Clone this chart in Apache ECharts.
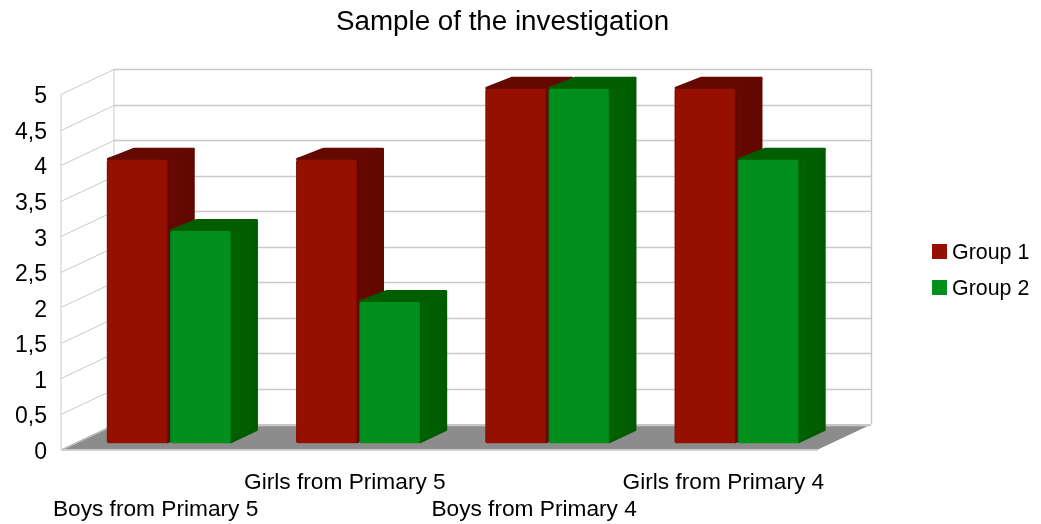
<!DOCTYPE html>
<html>
<head>
<meta charset="utf-8">
<style>html,body{margin:0;padding:0;background:#fff}#chart{width:1041px;height:524px}</style>
<script src="https://cdn.jsdelivr.net/npm/echarts@6/dist/echarts.min.js"></script>
</head>
<body>
<div id="chart"></div>
<script>
// Survey sample sizes per class
const categories = ['Boys from Primary 5', 'Girls from Primary 5', 'Boys from Primary 4', 'Girls from Primary 4'];
const group1 = [4, 4, 5, 5];
const group2 = [3, 2, 5, 4];
const valueTicks = [0, 0.5, 1, 1.5, 2, 2.5, 3, 3.5, 4, 4.5, 5];

// Oblique projection of the chart box
const DEPTH_X = 53;
const DEPTH_Y = 25;
const GRID_COLOR = '#c9c9c9';
const FONT = '"Liberation Sans", Arial, sans-serif';

const palette = {
  red: { front: '#961000', edge: '#7d0d00', top: '#640800', side: '#5f0700', sideLight: '#680900' },
  green: { front: '#00901b', edge: '#007a16', top: '#005d00', side: '#005a00', sideLight: '#006400' }
};

function line(x1, y1, x2, y2, width) {
  return {
    type: 'line',
    shape: { x1, y1, x2, y2 },
    style: { stroke: GRID_COLOR, lineWidth: width || 1, fill: null }
  };
}

// Back wall and side wall rules, one pair per value tick
function renderWallTick(params, api) {
  const cs = params.coordSys;
  const y = Math.round(api.coord([0, api.value(1)])[1]) + 0.5;
  const children = [
    line(cs.x, y, cs.x + DEPTH_X, y - DEPTH_Y),
    line(cs.x + DEPTH_X, y - DEPTH_Y, cs.x + DEPTH_X + cs.width, y - DEPTH_Y, 1.4)
  ];
  return { type: 'group', children };
}

// Floor and the box outline, drawn once
function renderBox(params) {
  const cs = params.coordSys;
  const left = cs.x, right = cs.x + cs.width, top = cs.y, bottom = cs.y + cs.height;
  return {
    type: 'group',
    children: [
      {
        type: 'polygon',
        shape: { points: [[left, bottom], [left + DEPTH_X, bottom - DEPTH_Y], [right + DEPTH_X, bottom - DEPTH_Y], [right, bottom]] },
        style: { fill: '#8c8c8c' }
      },
      line(left, top, left, bottom),
      line(left + DEPTH_X, top - DEPTH_Y, left + DEPTH_X, bottom - DEPTH_Y),
      line(right + DEPTH_X + 0.5, top - DEPTH_Y, right + DEPTH_X + 0.5, bottom - DEPTH_Y, 1.5),
      line(left, bottom + 0.5, right, bottom + 0.5, 1.5)
    ]
  };
}

// Extruded column: sits between a quarter and three quarters of the box depth
function makeBarRenderer(colors, side) {
  return function (params, api) {
    const base = api.coord([api.value(0), 0]);
    const head = api.coord([api.value(0), api.value(1)]);
    const band = api.size([1, 0])[0];
    const w = band * 0.322;
    const gap = band * 0.006;
    const shiftX = DEPTH_X / 4, shiftY = DEPTH_Y / 4;
    const dx = 27, dy = 12;
    const inset = 1.5;
    const x0 = base[0] + shiftX + (side < 0 ? -w - gap : gap);
    const x1 = x0 + w;
    const yTop = head[1] - shiftY + 1;
    const yBase = base[1] - shiftY;
    const hGrad = {
      type: 'linear', x: 0, y: 0, x2: 1, y2: 0,
      colorStops: [
        { offset: 0, color: colors.edge },
        { offset: 0.03, color: colors.front },
        { offset: 0.97, color: colors.front },
        { offset: 1, color: colors.edge }
      ]
    };
    const sideGrad = {
      type: 'linear', x: 0, y: 0, x2: 1, y2: 0,
      colorStops: [
        { offset: 0, color: colors.sideLight },
        { offset: 1, color: colors.side }
      ]
    };
    return {
      type: 'group',
      children: [
        {
          type: 'polygon',
          shape: { points: [[x1, yTop], [x1 + dx - inset, yTop - dy + inset], [x1 + dx - inset, yBase - dy - inset], [x1, yBase - inset]] },
          style: { fill: sideGrad, stroke: colors.side, lineWidth: inset * 2, lineJoin: 'round' }
        },
        {
          type: 'polygon',
          shape: { points: [[x0 + inset, yTop - inset + 1], [x0 + dx, yTop - dy + inset], [x1 + dx - inset, yTop - dy + inset], [x1, yTop]] },
          style: { fill: colors.top, stroke: colors.top, lineWidth: inset * 2, lineJoin: 'round' }
        },
        {
          type: 'rect',
          shape: { x: x0, y: yTop, width: w, height: yBase - yTop, r: 2 },
          style: { fill: hGrad }
        }
      ]
    };
  };
}

const indexed = values => values.map((v, i) => [i, v]);

const chart = echarts.init(document.getElementById('chart'), null, { renderer: 'canvas' });
chart.setOption({
  animation: false,
  backgroundColor: '#ffffff',
  title: {
    text: 'Sample of the investigation',
    left: 331,
    top: 3,
    textStyle: { fontFamily: FONT, fontSize: 27.75, fontWeight: 'normal', color: '#000' }
  },
  legend: {
    data: ['Group 1', 'Group 2'],
    orient: 'vertical',
    left: 932,
    top: 243,
    // Square swatch in the upper part of a taller symbol box, so the text sits slightly below its centre
    icon: 'path://M0 0H15V15H0Z M0 19H15',
    itemWidth: 15,
    itemHeight: 19,
    itemGap: 15,
    padding: 0,
    itemStyle: { borderWidth: 0 },
    selectedMode: false,
    textStyle: { fontFamily: FONT, fontSize: 21.4, color: '#000' }
  },
  grid: { left: 61, top: 94, width: 757, height: 355.5, containLabel: false },
  xAxis: {
    type: 'category',
    data: categories,
    axisLine: { show: false },
    axisTick: { show: false },
    splitLine: { show: false },
    axisLabel: {
      interval: 0,
      margin: 20,
      hideOverlap: false,
      fontFamily: FONT,
      fontSize: 22.7,
      color: '#000',
      lineHeight: 27,
      verticalAlign: 'top',
      formatter: (v, i) => (i % 2 === 0 ? '\n' + v : v)
    }
  },
  yAxis: {
    type: 'value',
    min: 0,
    max: 5,
    interval: 0.5,
    axisLine: { show: false },
    axisTick: { show: false },
    splitLine: { show: false },
    axisLabel: {
      margin: 14,
      fontFamily: FONT,
      fontSize: 23,
      color: '#000',
      verticalAlign: 'top',
      lineHeight: 6,
      formatter: v => String(v).replace('.', ',')
    }
  },
  series: [
    {
      name: 'Box',
      type: 'custom',
      silent: true,
      clip: false,
      z: 1,
      data: [[0, 0]],
      encode: { x: 0, y: 1 },
      renderItem: renderBox
    },
    {
      name: 'Rules',
      type: 'custom',
      silent: true,
      clip: false,
      z: 1,
      data: valueTicks.map(t => [0, t]),
      encode: { x: 0, y: 1 },
      renderItem: renderWallTick
    },
    {
      name: 'Group 1',
      type: 'custom',
      clip: false,
      z: 3,
      itemStyle: { color: palette.red.front },
      data: indexed(group1),
      encode: { x: 0, y: 1 },
      renderItem: makeBarRenderer(palette.red, -1)
    },
    {
      name: 'Group 2',
      type: 'custom',
      clip: false,
      z: 4,
      itemStyle: { color: palette.green.front },
      data: indexed(group2),
      encode: { x: 0, y: 1 },
      renderItem: makeBarRenderer(palette.green, 1)
    }
  ]
});
</script>
</body>
</html>
